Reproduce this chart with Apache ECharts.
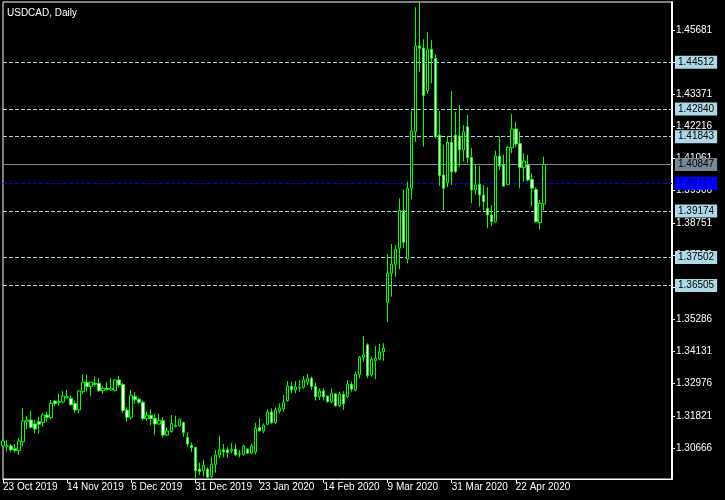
<!DOCTYPE html>
<html>
<head>
<meta charset="utf-8">
<script src="https://cdn.jsdelivr.net/npm/echarts@6/dist/echarts.min.js"></script>
<style>
html,body{margin:0;padding:0;background:#000;}
#chart{width:725px;height:500px;}
</style>
</head>
<body>
<div id="chart"></div>
<script>
const title = 'USDCAD, Daily';
const dates = [
'23 Oct 2019','24 Oct 2019','25 Oct 2019','28 Oct 2019','29 Oct 2019','30 Oct 2019','31 Oct 2019',
'1 Nov 2019','4 Nov 2019','5 Nov 2019','6 Nov 2019','7 Nov 2019','8 Nov 2019','11 Nov 2019','12 Nov 2019','13 Nov 2019','14 Nov 2019',
'15 Nov 2019','18 Nov 2019','19 Nov 2019','20 Nov 2019','21 Nov 2019','22 Nov 2019','25 Nov 2019','26 Nov 2019','27 Nov 2019','28 Nov 2019','29 Nov 2019',
'2 Dec 2019','3 Dec 2019','4 Dec 2019','5 Dec 2019','6 Dec 2019',
'9 Dec 2019','10 Dec 2019','11 Dec 2019','12 Dec 2019','13 Dec 2019','16 Dec 2019','17 Dec 2019','18 Dec 2019','19 Dec 2019','20 Dec 2019','23 Dec 2019','24 Dec 2019','26 Dec 2019','27 Dec 2019','30 Dec 2019','31 Dec 2019',
'2 Jan 2020','3 Jan 2020','6 Jan 2020','7 Jan 2020','8 Jan 2020','9 Jan 2020','10 Jan 2020','13 Jan 2020','14 Jan 2020','15 Jan 2020','16 Jan 2020','17 Jan 2020','20 Jan 2020','21 Jan 2020','22 Jan 2020','23 Jan 2020',
'24 Jan 2020','27 Jan 2020','28 Jan 2020','29 Jan 2020','30 Jan 2020','31 Jan 2020','3 Feb 2020','4 Feb 2020','5 Feb 2020','6 Feb 2020','7 Feb 2020','10 Feb 2020','11 Feb 2020','12 Feb 2020','13 Feb 2020','14 Feb 2020',
'17 Feb 2020','18 Feb 2020','19 Feb 2020','20 Feb 2020','21 Feb 2020','24 Feb 2020','25 Feb 2020','26 Feb 2020','27 Feb 2020','28 Feb 2020','2 Mar 2020','3 Mar 2020','4 Mar 2020','5 Mar 2020','6 Mar 2020','9 Mar 2020',
'10 Mar 2020','11 Mar 2020','12 Mar 2020','13 Mar 2020','16 Mar 2020','17 Mar 2020','18 Mar 2020','19 Mar 2020','20 Mar 2020','23 Mar 2020','24 Mar 2020','25 Mar 2020','26 Mar 2020','27 Mar 2020','30 Mar 2020','31 Mar 2020',
'1 Apr 2020','2 Apr 2020','3 Apr 2020','6 Apr 2020','7 Apr 2020','8 Apr 2020','9 Apr 2020','10 Apr 2020','13 Apr 2020','14 Apr 2020','15 Apr 2020','16 Apr 2020','17 Apr 2020','20 Apr 2020','21 Apr 2020','22 Apr 2020',
'23 Apr 2020','24 Apr 2020','27 Apr 2020','28 Apr 2020','29 Apr 2020','30 Apr 2020','1 May 2020'
];
const emptySlots = 32;

const opens = [
1.3074,1.3073,1.3074,1.3064,1.3058,1.3089,1.3161,1.3167,1.3153,1.3161,1.3158,1.3185,1.3176,1.3235,1.3233,1.3232,
1.3247,1.3245,1.3227,1.3203,1.3269,1.3303,1.3287,1.3299,1.3299,1.3272,1.3281,1.3275,1.3272,1.3311,1.3295,1.3203,
1.3177,1.3252,1.3242,1.3231,1.3172,1.3184,1.3173,1.3153,1.3165,1.3113,1.3125,1.3147,1.3146,1.3158,1.3104,1.3076,
1.3069,1.2991,1.2985,1.2991,1.2964,1.3008,1.3041,1.3060,1.3060,1.3057,1.3063,1.3045,1.3044,1.3063,1.3048,1.3052,
1.3140,1.3128,1.3152,1.3196,1.3158,1.3200,1.3207,1.3237,1.3289,1.3275,1.3284,1.3285,1.3303,1.3317,1.3287,1.3251,
1.3271,1.3253,1.3233,1.3261,1.3219,1.3259,1.3251,1.3296,1.3275,1.3331,1.3392,1.3437,1.3329,1.3380,1.3385,1.3412,
1.3590,1.3694,1.3726,1.3784,1.3919,1.3745,1.3999,1.4202,1.4510,1.4502,1.4349,1.4498,1.4466,1.4190,1.4047,1.4019,
1.4164,1.4190,1.4187,1.4137,1.4220,1.4110,1.3993,1.4013,1.3975,1.3927,1.3903,1.3879,1.4115,1.4083,1.4013,1.4145,
1.4212,1.4160,1.4073,1.4083,1.4031,1.3995,1.3876,1.3943
];
const closes = [
1.3092,1.3074,1.3060,1.3058,1.3092,1.3164,1.3167,1.3141,1.3135,1.3152,1.3185,1.3176,1.3227,1.3226,1.3231,1.3253,
1.3251,1.3222,1.3203,1.3271,1.3303,1.3287,1.3303,1.3295,1.3272,1.3281,1.3277,1.3281,1.3311,1.3293,1.3201,1.3177,
1.3256,1.3240,1.3231,1.3172,1.3184,1.3172,1.3153,1.3165,1.3113,1.3128,1.3155,1.3145,1.3170,1.3122,1.3081,1.3068,
1.2985,1.2982,1.3005,1.2962,1.3008,1.3042,1.3060,1.3053,1.3050,1.3062,1.3042,1.3046,1.3074,1.3048,1.3074,1.3137,
1.3129,1.3149,1.3196,1.3158,1.3203,1.3211,1.3231,1.3289,1.3275,1.3286,1.3283,1.3311,1.3317,1.3287,1.3251,1.3271,
1.3251,1.3233,1.3263,1.3218,1.3259,1.3225,1.3296,1.3278,1.3332,1.3392,1.3401,1.3326,1.3385,1.3389,1.3412,1.3425,
1.3694,1.3726,1.3780,1.3919,1.3805,1.3999,1.4205,1.4510,1.4502,1.4331,1.4496,1.4466,1.4184,1.4044,1.3999,1.4164,
1.4058,1.4059,1.4137,1.4202,1.4110,1.3993,1.4011,1.3975,1.3951,1.3903,1.3879,1.4115,1.4079,1.4007,1.4146,1.4212,
1.4158,1.4074,1.4097,1.4029,1.3999,1.3879,1.3945,1.40847
];
const lows = [
1.3069,1.3053,1.3053,1.3050,1.3042,1.3074,1.3134,1.3137,1.3119,1.3117,1.3143,1.3161,1.3171,1.3218,1.3218,1.3227,
1.3244,1.3218,1.3193,1.3191,1.3261,1.3269,1.3253,1.3287,1.3269,1.3261,1.3272,1.3272,1.3271,1.3285,1.3193,1.3161,
1.3170,1.3225,1.3225,1.3165,1.3165,1.3149,1.3113,1.3149,1.3104,1.3110,1.3122,1.3141,1.3143,1.3107,1.3071,1.3053,
1.2958,1.2970,1.2964,1.2960,1.2960,1.2978,1.3030,1.3033,1.3032,1.3048,1.3038,1.3033,1.3039,1.3045,1.3044,1.3044,
1.3125,1.3120,1.3149,1.3153,1.3153,1.3191,1.3197,1.3233,1.3263,1.3263,1.3269,1.3279,1.3293,1.3275,1.3237,1.3239,
1.3237,1.3229,1.3227,1.3215,1.3213,1.3203,1.3245,1.3269,1.3271,1.3317,1.3377,1.3317,1.3323,1.3313,1.3383,1.3380,
1.3518,1.3610,1.3682,1.3708,1.3784,1.3730,1.3960,1.4166,1.4418,1.4148,1.4338,1.4376,1.4179,1.4007,1.3921,1.4003,
1.4011,1.4053,1.4077,1.4095,1.4089,1.3945,1.3975,1.3933,1.3921,1.3855,1.3864,1.3876,1.4065,1.4005,1.4011,1.4125,
1.4148,1.3999,1.4023,1.4023,1.3935,1.3876,1.3852,1.3921
];
const highs = [
1.3099,1.3095,1.3081,1.3081,1.3102,1.3211,1.3182,1.3200,1.3167,1.3179,1.3193,1.3197,1.3239,1.3239,1.3261,1.3271,
1.3275,1.3256,1.3237,1.3275,1.3332,1.3329,1.3305,1.3323,1.3317,1.3289,1.3303,1.3317,1.3314,1.3326,1.3299,1.3213,
1.3275,1.3267,1.3247,1.3237,1.3198,1.3206,1.3189,1.3189,1.3177,1.3141,1.3185,1.3182,1.3171,1.3161,1.3123,1.3086,
1.3071,1.3014,1.3024,1.2997,1.3035,1.3060,1.3110,1.3081,1.3069,1.3084,1.3081,1.3060,1.3078,1.3066,1.3084,1.3157,
1.3173,1.3155,1.3206,1.3209,1.3213,1.3227,1.3257,1.3307,1.3305,1.3307,1.3311,1.3325,1.3332,1.3323,1.3301,1.3281,
1.3281,1.3254,1.3281,1.3263,1.3269,1.3271,1.3311,1.3305,1.3341,1.3397,1.3469,1.3443,1.3394,1.3433,1.3440,1.3443,
1.3763,1.3799,1.3795,1.3963,1.3995,1.4023,1.4277,1.4649,1.4665,1.4534,1.4559,1.4531,1.4481,1.4277,1.4155,1.4187,
1.4348,1.4274,1.4298,1.4226,1.4262,1.4143,1.4083,1.4079,1.4011,1.4003,1.3939,1.4134,1.4184,1.4119,1.4150,1.4266,
1.4238,1.4202,1.4125,1.4119,1.4053,1.4003,1.3957,1.4112
];

const yTicks = [1.30666,1.31821,1.32976,1.34131,1.35286,1.36441,1.37596,1.38751,1.39906,1.41061,1.42216,1.43371,1.44526,1.45681];
const levels = [1.44512,1.42840,1.41843,1.39174,1.37502,1.36505];
const bidLevel = 1.40847;
const askLevel = 1.40171;
const yMin = 1.29554, yMax = 1.46678;

const FONT = 'Liberation Sans';
const categories = dates.concat(new Array(emptySlots).fill(''));
const ohlc = opens.map((o, i) => [o, closes[i], lows[i], highs[i]]);

const lblFmt = p => Number(p.value).toFixed(5);
const markData = levels.map(v => ({
  yAxis: v,
  lineStyle: {color: '#ADD8E6', type: [4, 2], width: 1},
  label: {backgroundColor: '#ADD8E6', color: '#000'}
}));
markData.push({
  yAxis: bidLevel,
  lineStyle: {color: '#778899', type: 'solid', width: 1},
  label: {backgroundColor: '#778899', color: '#000'}
});
markData.push({
  yAxis: askLevel,
  lineStyle: {color: '#0000FF', type: [4, 2], width: 1},
  label: {backgroundColor: '#0000FF', color: '#000080'}
});

const showEvery = (idx, val) => idx % 16 === 0 && val !== '';

const chart = echarts.init(document.getElementById('chart'), null, {renderer: 'canvas'});
chart.setOption({
  backgroundColor: '#000',
  animation: false,
  title: {
    text: title, left: 2, top: 3,
    textStyle: {color: '#fff', fontSize: 10, fontWeight: 'normal', fontFamily: FONT}
  },
  grid: {left: 2, right: 53, top: 2, bottom: 21, show: true, borderColor: '#fff', borderWidth: 1, backgroundColor: '#000'},
  xAxis: {
    type: 'category', data: categories, boundaryGap: false,
    axisLine: {lineStyle: {color: '#fff', width: 1}},
    axisTick: {show: true, interval: showEvery, length: 4, lineStyle: {color: '#fff'}},
    axisLabel: {interval: showEvery, color: '#fff', fontSize: 10, fontFamily: FONT, align: 'left', margin: 3},
    splitLine: {show: false}
  },
  yAxis: {
    type: 'value', position: 'right', min: yMin, max: yMax,
    axisLine: {show: true, lineStyle: {color: '#fff', width: 2}},
    axisTick: {show: true, customValues: yTicks, length: 3, lineStyle: {color: '#fff'}},
    axisLabel: {customValues: yTicks, color: '#fff', fontSize: 10, fontFamily: FONT, margin: 4,
      formatter: v => Number(v).toFixed(5)},
    splitLine: {show: false}
  },
  series: [
    {
      type: 'candlestick', data: ohlc, barWidth: 3, clip: false, z: 3,
      itemStyle: {color: '#000', color0: '#fff', borderColor: '#00FF00', borderColor0: '#00FF00', borderWidth: 1},
      markLine: {
        silent: true, symbol: ['none', 'none'], animation: false, z: 1, precision: 5,
        label: {show: true, position: 'end', formatter: lblFmt, fontSize: 10, fontFamily: FONT,
          padding: [2, 3, 1, 3], distance: 3},
        data: markData
      }
    }
  ]
});
</script>
</body>
</html>
